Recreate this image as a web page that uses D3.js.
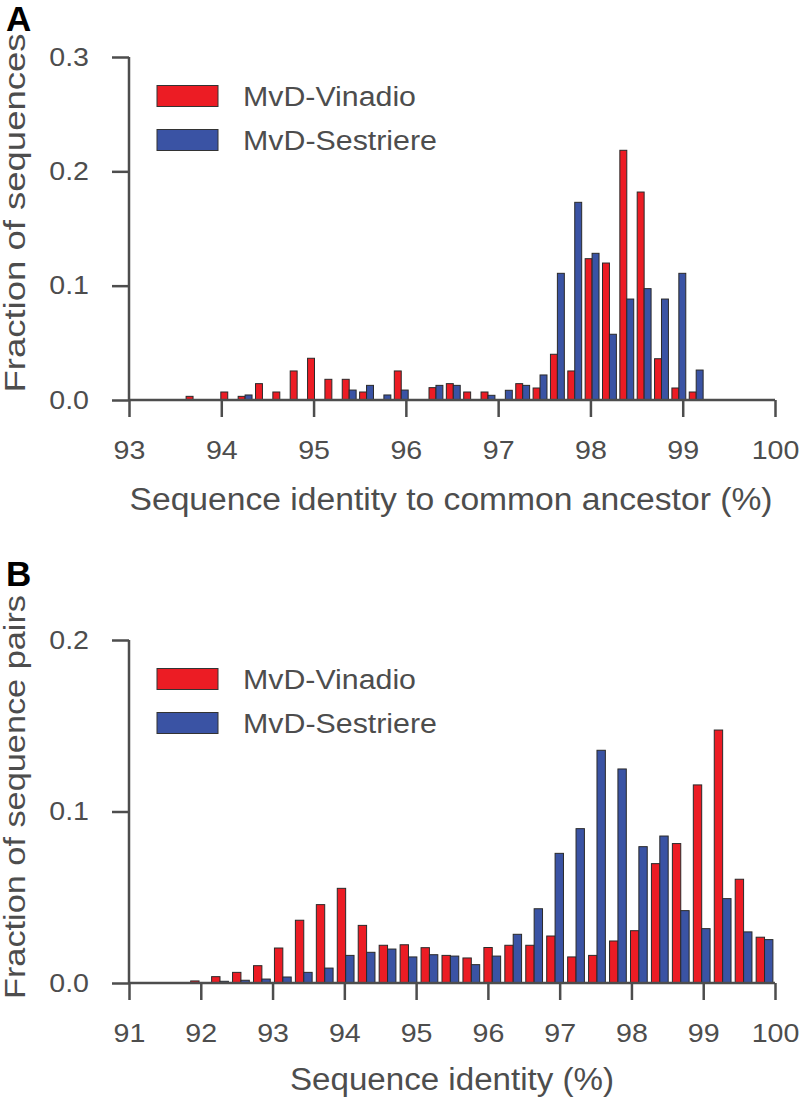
<!DOCTYPE html>
<html>
<head>
<meta charset="UTF-8">
<title>Sequence identity histograms</title>
<script src="https://cdn.jsdelivr.net/npm/d3@7"></script>
<style>
	body { margin: 0; background: #fff; }
	text { font-family: "Liberation Sans", Arial, sans-serif; fill: #4d4d4d; }
</style>
</head>
<body>
<svg id="fig" width="800" height="1098"></svg>
<script>
// series names + colours
var seriesNames = ["MvD-Vinadio", "MvD-Sestriere"];
var seriesColors = ["#ec1c24", "#3a53a4"];

// panel A: identity to common ancestor, 30 bins from 93.6 to 99.24
var binRangeA = [93.6, 99.24];
var vinadioA = [0.0032, 0, 0.007, 0.0032, 0.0143, 0.007, 0.0254, 0.0365, 0.0181, 0.0181,
	0.007, 0, 0.0254, 0, 0.0108, 0.0143, 0.007, 0.007, 0, 0.0143,
	0.0105, 0.040, 0.0254, 0.1236, 0.1198, 0.2184, 0.1819, 0.0361, 0.0105, 0.007];
var sestriereA = [0, 0, 0, 0.0044, 0, 0, 0, 0, 0, 0.0087,
	0.0128, 0.0044, 0.0087, 0, 0.0128, 0.0128, 0, 0.0041, 0.0085, 0.0128,
	0.0219, 0.1108, 0.1729, 0.1283, 0.0575, 0.0883, 0.0974, 0.0883, 0.1108, 0.0262];
var xTicksA = [93, 94, 95, 96, 97, 98, 99, 100];
var yTicksA = [0.0, 0.1, 0.2, 0.3];

// panel B: pairwise identity, 28 bins from 91.83 to 100
var binRangeB = [91.83, 100];
var vinadioB = [0.0012, 0.0037, 0.0062, 0.0101, 0.0204, 0.0366, 0.0457, 0.0552, 0.0336, 0.022,
	0.0223, 0.0206, 0.0161, 0.0146, 0.0207, 0.022, 0.022, 0.0274, 0.0152, 0.0161,
	0.0245, 0.0305, 0.0696, 0.0813, 0.1155, 0.1475, 0.0605, 0.0267];
var sestriereB = [0, 0.001, 0.0016, 0.0023, 0.0035, 0.0062, 0.0087, 0.0161, 0.0179, 0.0198,
	0.0152, 0.0165, 0.0157, 0.0107, 0.0157, 0.0284, 0.0433, 0.0756, 0.09, 0.1357,
	0.1248, 0.0795, 0.0857, 0.0422, 0.0317, 0.0492, 0.0298, 0.0253];
var xTicksB = [91, 92, 93, 94, 95, 96, 97, 98, 99, 100];
var yTicksB = [0.0, 0.1, 0.2];

var svg = d3.select("#fig");

// text in the figure is set wider than Liberation Sans at the same height
function stretch(sel, k) {
	sel.each(function () {
		var len = this.getComputedTextLength();
		d3.select(this).attr("textLength", len * k).attr("lengthAdjust", "spacingAndGlyphs");
	});
}
function fitTo(sel, len) {
	sel.attr("textLength", len).attr("lengthAdjust", "spacingAndGlyphs");
}

function drawPanel(p) {
	var g = svg.append("g");
	var x = d3.scaleLinear().domain(p.xDomain).range([129, 775]);
	var y = d3.scaleLinear().domain(p.yDomain).range([p.bottom, p.top]);

	var n = p.series[0].length;
	var w = (p.binRange[1] - p.binRange[0]) / n;
	var bins = d3.range(n).map(function (i) { return p.binRange[0] + i * w; });
	var barW = x(p.xDomain[0] + w * 0.4) - x(p.xDomain[0]);

	// side by side bars, 80% of the bin, like matplotlib
	p.series.forEach(function (vals, s) {
		var rows = vals.map(function (v, i) { return { bin: bins[i], v: v }; })
			.filter(function (d) { return d.v > 0; });
		g.selectAll(".bar" + s).data(rows).enter().append("rect")
			.attr("class", "bar" + s)
			.attr("x", function (d) { return x(d.bin + w * (0.1 + 0.4 * s)); })
			.attr("width", barW)
			.attr("y", function (d) { return y(d.v); })
			.attr("height", function (d) { return y(0) - y(d.v); })
			.attr("fill", seriesColors[s])
			.attr("stroke", "#2a2a2a")
			.attr("stroke-width", 1);
	});

	// axes
	var xAxis = d3.axisBottom(x).tickValues(p.xTicks).tickSize(17).tickPadding(24).tickFormat(d3.format("d"));
	var yAxis = d3.axisLeft(y).tickValues(p.yTicks).tickSize(17).tickPadding(23).tickFormat(d3.format(".1f"));
	var gx = g.append("g").attr("transform", "translate(0," + y(0) + ")").call(xAxis);
	var gy = g.append("g").attr("transform", "translate(129,0)").call(yAxis);
	[gx, gy].forEach(function (a) {
		a.select(".domain").attr("stroke", "#4d4d4d").attr("stroke-width", 2.5);
		a.selectAll(".tick line").attr("stroke", "#4d4d4d").attr("stroke-width", 2.5);
		a.selectAll(".tick text").attr("fill", "#4d4d4d").style("font-size", "26px")
			.style("font-family", "Liberation Sans, Arial, sans-serif");
		stretch(a.selectAll(".tick text"), 1.1);
	});
	// keep spines only between the end ticks
	gx.select(".domain").attr("d", "M" + x(p.xTicks[0]) + ",0H" + x(p.xTicks[p.xTicks.length - 1]));
	gy.select(".domain").attr("d", "M0," + y(p.yTicks[0]) + "V" + y(p.yTicks[p.yTicks.length - 1]));

	// axis titles
	var xt = g.append("text").attr("x", (129 + 775) / 2 + p.xTitleDx).attr("y", p.xTitleY)
		.attr("text-anchor", "middle").style("font-size", "31px").text(p.xTitle);
	fitTo(xt, p.xTitleLen);
	var yt = g.append("text").attr("transform", "translate(25," + p.yTitleMid + ") rotate(-90)")
		.attr("text-anchor", "middle").style("font-size", "29px").text(p.yTitle);
	fitTo(yt, p.yTitleLen);

	// panel letter
	g.append("text").attr("x", 6).attr("y", p.letterY).style("font-size", "35px")
		.style("font-weight", "bold").style("fill", "#000").text(p.letter);

	// legend
	var lg = g.append("g");
	seriesNames.forEach(function (name, s) {
		var cy = p.legendY + s * 44;
		lg.append("rect").attr("x", 157).attr("y", cy - 10.5).attr("width", 61).attr("height", 21)
			.attr("fill", seriesColors[s]).attr("stroke", "#333").attr("stroke-width", 1);
		var t = lg.append("text").attr("x", 243).attr("y", cy + 10).style("font-size", "27px").text(name);
		fitTo(t, s === 0 ? 173 : 194);
	});
}

drawPanel({
	letter: "A", letterY: 31,
	xDomain: [93, 100], yDomain: [0, 0.3], top: 57, bottom: 400,
	binRange: binRangeA, series: [vinadioA, sestriereA],
	xTicks: xTicksA, yTicks: yTicksA,
	xTitle: "Sequence identity to common ancestor (%)", xTitleY: 510, xTitleDx: -1, xTitleLen: 643,
	yTitle: "Fraction of sequences", yTitleMid: 213, yTitleLen: 359,
	legendY: 96
});

drawPanel({
	letter: "B", letterY: 586,
	xDomain: [91, 100], yDomain: [0, 0.2], top: 640, bottom: 983,
	binRange: binRangeB, series: [vinadioB, sestriereB],
	xTicks: xTicksB, yTicks: yTicksB,
	xTitle: "Sequence identity (%)", xTitleY: 1090, xTitleDx: 0, xTitleLen: 324,
	yTitle: "Fraction of sequence pairs", yTitleMid: 797, yTitleLen: 404,
	legendY: 679
});
</script>
</body>
</html>
